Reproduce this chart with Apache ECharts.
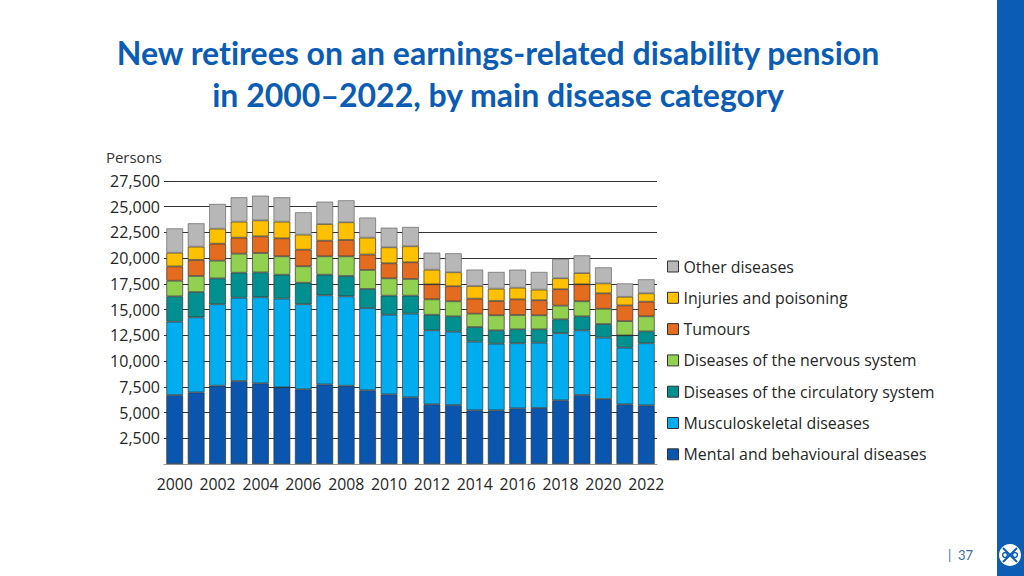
<!DOCTYPE html>
<html><head><meta charset="utf-8">
<style>html,body{margin:0;padding:0;background:#fff}#c{width:1024px;height:576px}#c text{font-variant-ligatures:none !important}</style>
<script src="https://cdn.jsdelivr.net/npm/echarts@6/dist/echarts.min.js"></script>
</head><body><div id="c"></div>
<script>
const years = ['2000','2001','2002','2003','2004','2005','2006','2007','2008','2009','2010','2011','2012','2013','2014','2015','2016','2017','2018','2019','2020','2021','2022'];
const mental = [6700,6960,7610,8060,7840,7450,7260,7740,7610,7160,6770,6480,5800,5730,5220,5220,5410,5440,6190,6700,6320,5800,5700];
const musculoskeletal = [7130,7290,7910,8100,8360,8620,8260,8650,8680,8000,7740,8130,7190,7130,6670,6470,6320,6350,6510,6290,5960,5500,6030];
const circulatory = [2460,2460,2520,2430,2420,2330,2100,2010,1980,1850,1850,1750,1520,1490,1420,1300,1360,1300,1360,1360,1320,1200,1160];
const nervous = [1520,1560,1720,1850,1880,1780,1590,1780,1910,1850,1680,1620,1490,1460,1300,1460,1390,1360,1330,1460,1490,1390,1460];
const tumours = [1390,1555,1650,1555,1620,1750,1620,1520,1590,1490,1460,1620,1460,1460,1460,1390,1520,1460,1590,1650,1490,1520,1425];
const injuries = [1330,1295,1460,1555,1555,1620,1460,1620,1715,1650,1555,1555,1425,1360,1230,1200,1135,1035,1070,1100,970,840,810];
const other = [2365,2270,2400,2365,2400,2365,2170,2170,2140,1945,1910,1880,1650,1845,1590,1620,1750,1715,1880,1715,1555,1295,1360];
const names = ['Mental and behavioural diseases','Musculoskeletal diseases','Diseases of the circulatory system','Diseases of the nervous system','Tumours','Injuries and poisoning','Other diseases'];
const colors = ['#0a55ad','#00aeef','#00908f','#92d050','#e46c1f','#ffc000','#b7b7b7'];
const values = [mental,musculoskeletal,circulatory,nervous,tumours,injuries,other];
const chartFont = '"Open Sans"';
const blue = '#0a5cb5';
const chart = echarts.init(document.getElementById('c'),null,{renderer:'svg'});
chart.setOption({
  animation:false,
  backgroundColor:'#fff',
  title:{text:'New retirees on an earnings-related disability pension\nin 2000–2022, by main disease category',left:493,top:26,textAlign:'center',
    textStyle:{fontFamily:'Lato',fontWeight:'bold',fontSize:32,lineHeight:42,color:blue}},
  grid:{left:164,top:181,width:493,height:283,containLabel:false},
  legend:{orient:'vertical',left:662,top:252,itemWidth:11,itemHeight:11,itemGap:12.3,icon:'rect',
    data:names.slice().reverse(),
    textStyle:{fontFamily:chartFont,fontSize:15.9,color:'#262626',padding:[0,0,0,0],lineHeight:19},
    itemStyle:{borderColor:'#333',borderWidth:1}},
  xAxis:{type:'category',data:years,
    axisLine:{lineStyle:{color:'#999',width:1}},axisTick:{show:false},
    axisLabel:{interval:1,hideOverlap:false,margin:12,fontFamily:chartFont,fontSize:15.8,color:'#262626'}},
  yAxis:{type:'value',min:0,max:27500,interval:2500,
    name:'Persons',nameLocation:'end',nameGap:17,
    nameTextStyle:{fontFamily:chartFont,fontSize:15,color:'#333',align:'right',padding:[0,2,0,0]},
    axisLine:{show:false},axisTick:{show:false},
    axisLabel:{margin:4,padding:[4,0,0,0],fontFamily:chartFont,fontSize:16,color:'#262626',
      formatter:v=>v===0?'':v.toLocaleString('en-US')},
    splitLine:{lineStyle:{color:'#333',width:1}}},
  series:values.map((d,i)=>({name:names[i],type:'bar',stack:'all',data:d,barWidth:'78%',
    itemStyle:{color:colors[i],borderColor:i===6?'#666':'#333',borderWidth:0.7}})),
  graphic:[
    {type:'rect',shape:{x:997,y:0,width:27,height:576},style:{fill:blue},silent:true},
    {type:'circle',shape:{cx:1010,cy:555,r:11},style:{fill:'#fff'},silent:true},
    {type:'line',shape:{x1:1003,y1:548,x2:1017,y2:562},style:{stroke:blue,lineWidth:2},silent:true},
    {type:'line',shape:{x1:1017,y1:548,x2:1003,y2:562},style:{stroke:blue,lineWidth:2},silent:true},
    {type:'circle',shape:{cx:1005,cy:555,r:2.4},style:{fill:'#fff',stroke:blue,lineWidth:1.4},silent:true},
    {type:'circle',shape:{cx:1015,cy:555,r:2.4},style:{fill:'#fff',stroke:blue,lineWidth:1.4},silent:true},
    {type:'text',left:948,top:548,style:{text:'|  37',fontFamily:'Lato',fontSize:13,fill:'#3a6ea5'},silent:true}
  ]
});
</script></body></html>
